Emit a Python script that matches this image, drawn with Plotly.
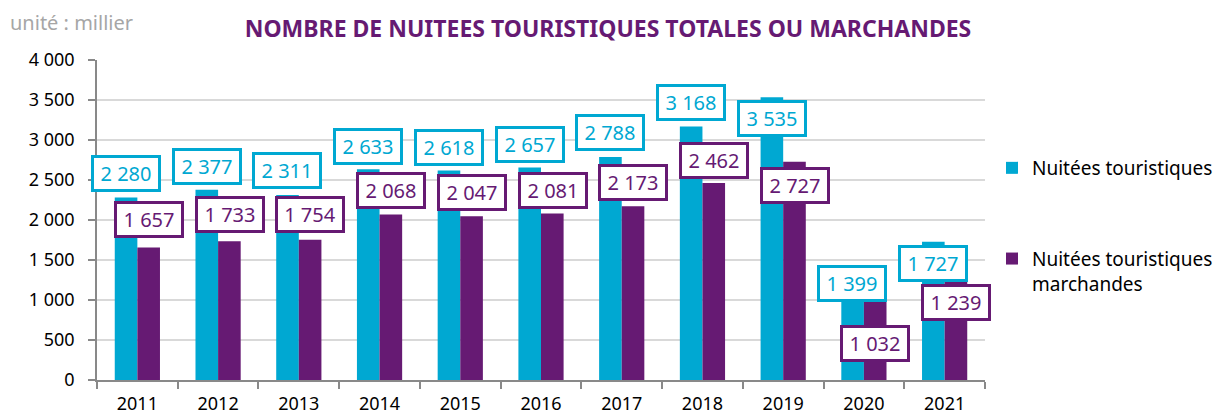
import plotly.graph_objects as go

years = ["2011", "2012", "2013", "2014", "2015", "2016", "2017", "2018", "2019", "2020", "2021"]
nuitees_totales = [2280, 2377, 2311, 2633, 2618, 2657, 2788, 3168, 3535, 1399, 1727]
nuitees_marchandes = [1657, 1733, 1754, 2068, 2047, 2081, 2173, 2462, 2727, 1032, 1239]
y_ticks = [0, 500, 1000, 1500, 2000, 2500, 3000, 3500, 4000]
y_ticklabels = ["0", "500", "1 000", "1 500", "2 000", "2 500", "3 000", "3 500", "4 000"]

# label placement (pixel offset of box centre from the bar top; positive = above)
off_totales = [24, 23, 25, 23, 23, 23, 24, 24, -21, -15, -22]
off_marchandes = [28, 27, 25, 24, 23.5, 23, 24, 23, -24, -46, -22]

CYAN = "#00A8D2"
PURPLE = "#661A73"
FONT = "Noto Sans"

# figure sits 8px inside the page (body margin)
W, H = 1224, 407
L, R, T, B = 89, 247, 52, 35
pw, ph = W - L - R, H - T - B


def fmt(v):
    return f"{v:,}".replace(",", " ")


fig = go.Figure()
fig.add_trace(go.Bar(x=years, y=nuitees_totales, name="Nuitées touristiques",
                     marker=dict(color=CYAN, line=dict(width=0)), legendgroup="a"))
fig.add_trace(go.Bar(x=years, y=nuitees_marchandes, name="Nuitées touristiques<br>marchandes",
                     marker=dict(color=PURPLE, line=dict(width=0)), legendgroup="b"))

annotations = []
for i, (v, dy) in enumerate(zip(nuitees_totales, off_totales)):
    annotations.append(dict(x=i, y=v, xref="x", yref="y", text=fmt(v), showarrow=False,
                            xshift=-11.5, yshift=dy, font=dict(family=FONT, size=20, color=CYAN),
                            width=60, height=27,
                            bgcolor="white", bordercolor=CYAN, borderwidth=3, borderpad=2))
for i, (v, dy) in enumerate(zip(nuitees_marchandes, off_marchandes)):
    annotations.append(dict(x=i, y=v, xref="x", yref="y", text=fmt(v), showarrow=False,
                            xshift=11.5, yshift=dy, font=dict(family=FONT, size=20, color=PURPLE),
                            width=60, height=27,
                            bgcolor="white", bordercolor=PURPLE, borderwidth=3, borderpad=2))

annotations.append(dict(x=(0 - L) / pw, y=(H - B - 14) / ph, xref="paper", yref="paper",
                        text="unité : millier", showarrow=False,
                        xanchor="left", yanchor="middle",
                        font=dict(family=FONT, size=20, color="#A6A6A6")))

fig.update_layout(
    annotations=annotations,
    width=W, height=H,
    margin=dict(l=L, r=R, t=T, b=B, autoexpand=False),
    paper_bgcolor="white", plot_bgcolor="white",
    barmode="group", bargap=0.44, bargroupgap=0,
    title=dict(text="<b>NOMBRE DE NUITEES TOURISTIQUES TOTALES OU MARCHANDES</b>",
               x=600 / W, xanchor="center", y=1 - 21 / H, yanchor="middle",
               font=dict(family=FONT, size=23, color=PURPLE)),
    font=dict(family=FONT, size=18, color="black"),
    xaxis=dict(type="category", range=[-0.5, len(years) - 0.5], autorange=False,
               showline=True, linecolor="#898989", linewidth=1.5,
               ticks="outside", tickson="boundaries", ticklen=7, tickcolor="#898989",
               tickwidth=1.5, showgrid=False, ticklabelstandoff=7,
               tickfont=dict(size=18, color="black")),
    yaxis=dict(range=[0, 4000], autorange=False, tickvals=y_ticks, ticktext=y_ticklabels,
               showline=True,
               linecolor="#898989", linewidth=1.5, ticks="outside", ticklen=7,
               tickcolor="#898989", tickwidth=1.5, showgrid=True, gridcolor="#D9D9D9",
               gridwidth=1.5, zeroline=False, ticklabelstandoff=10,
               tickfont=dict(size=18, color="black")),
    legend=dict(x=(984 - L) / pw, y=(H - B - 141) / ph, xanchor="left", yanchor="top",
                traceorder="grouped", tracegroupgap=63, valign="top",
                font=dict(family=FONT, size=19, color="black"), itemwidth=30),
    showlegend=True,
)

fig.write_html("out.html")
